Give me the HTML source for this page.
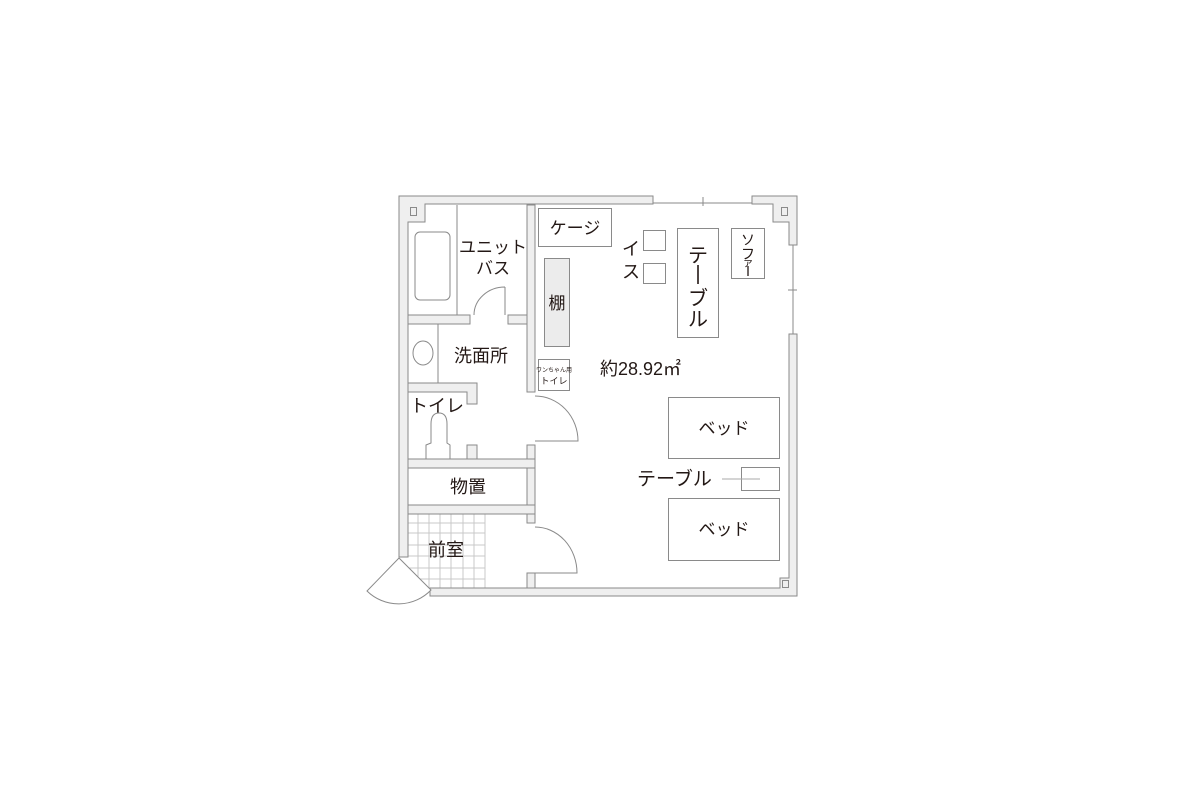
<!DOCTYPE html>
<html><head><meta charset="utf-8"><style>
html,body{margin:0;padding:0;background:#fff;}
svg{display:block}
text{font-family:"Liberation Sans","Noto Sans CJK JP",sans-serif;fill:#231815;}
</style></head><body>
<svg width="1200" height="800" viewBox="0 0 1200 800" xmlns="http://www.w3.org/2000/svg">
<g fill="none" stroke="#8a8a8a" stroke-width="1">
<g stroke="#c8c8c8">
<line x1="418" y1="514" x2="418" y2="588"/><line x1="429" y1="514" x2="429" y2="588"/><line x1="440" y1="514" x2="440" y2="588"/><line x1="451" y1="514" x2="451" y2="588"/><line x1="463" y1="514" x2="463" y2="588"/><line x1="474" y1="514" x2="474" y2="588"/><line x1="485" y1="514" x2="485" y2="588"/>
<line x1="408" y1="523" x2="485" y2="523"/><line x1="408" y1="533" x2="485" y2="533"/><line x1="408" y1="545" x2="485" y2="545"/><line x1="408" y1="556" x2="485" y2="556"/><line x1="408" y1="568" x2="485" y2="568"/><line x1="408" y1="579" x2="485" y2="579"/>
</g>
</g>
<g fill="#efefef" stroke="#8a8a8a" stroke-width="1">
<polygon points="399,196 653,196 653,204 425,204 425,222 408,222 408,557 399,557"/>
<polygon points="430,588 780,588 780,578 789,578 789,334 797,334 797,596 430,596"/>
<polygon points="752,196 797,196 797,245 789,245 789,222 773,222 773,204 752,204"/>
<rect x="527" y="205" width="8" height="187"/>
<rect x="527" y="445" width="8" height="60"/>
<rect x="527" y="505" width="8" height="18"/>
<rect x="527" y="573" width="8" height="15"/>
<rect x="408" y="315" width="62" height="9"/>
<rect x="508" y="315" width="19" height="9"/>
<polygon points="408,383 477,383 477,404 467,404 467,392 408,392"/>
<rect x="467" y="445" width="10" height="14"/>
<rect x="408" y="459" width="127" height="9"/>
<rect x="408" y="505" width="127" height="9"/>
</g>
<g fill="none" stroke="#8a8a8a" stroke-width="1">
<line x1="653" y1="203" x2="752" y2="203"/><line x1="703" y1="197" x2="703" y2="206"/>
<line x1="793" y1="245" x2="793" y2="334"/><line x1="788" y1="290" x2="797" y2="290"/>
<rect x="410.5" y="207.5" width="6" height="8"/>
<rect x="781.5" y="207.5" width="6" height="8"/>
<rect x="782.5" y="580.5" width="6" height="7"/>
<line x1="457" y1="205" x2="457" y2="315"/>
<rect x="415" y="232" width="35" height="68" rx="5"/>
<path d="M505,315 L505,287 M474,315 A31,28 0 0 1 505,287"/>
<line x1="438" y1="324" x2="438" y2="383"/>
<ellipse cx="423" cy="353" rx="10" ry="12"/>
<path d="M426,459 L426,445 L431,443 L431,424 Q431,413 439,413 Q447,413 447,424 L447,443 L450,445 L450,459"/>
<path d="M535,441 L578,441 A43,45 0 0 0 535,396"/>
<path d="M535,573 L577,573 A42,46 0 0 0 535,527"/>
<path d="M399,558 L367,591 A45,45 0 0 0 431,590 Z" fill="#fff"/>
<rect x="538.5" y="208.5" width="73" height="38"/>
<rect x="544.5" y="258.5" width="25" height="88" fill="#ececec"/>
<rect x="538.5" y="359.5" width="31" height="31"/>
<rect x="643.5" y="230.5" width="22" height="20"/>
<rect x="643.5" y="263.5" width="22" height="20"/>
<rect x="677.5" y="228.5" width="41" height="109"/>
<rect x="731.5" y="228.5" width="33" height="50"/>
<rect x="668.5" y="397.5" width="111" height="61"/>
<rect x="668.5" y="498.5" width="111" height="62"/>
<rect x="741.5" y="467.5" width="38" height="23"/>
<line x1="722" y1="479" x2="760" y2="479" stroke="#aaa"/>
</g>
<text x="493" y="253" font-size="17" text-anchor="middle">ユニット</text>
<text x="493" y="274" font-size="17" text-anchor="middle">バス</text>
<text x="575" y="234" font-size="17" text-anchor="middle">ケージ</text>
<text x="557" y="309" font-size="17" text-anchor="middle">棚</text>
<text x="554" y="372" font-size="6" text-anchor="middle">ワンちゃん用</text>
<text x="554" y="384" font-size="9" text-anchor="middle">トイレ</text>
<text x="481" y="362" font-size="18" text-anchor="middle">洗面所</text>
<text x="437" y="412" font-size="18" text-anchor="middle">トイレ</text>
<text x="468" y="493" font-size="18" text-anchor="middle">物置</text>
<text x="446" y="556" font-size="18" text-anchor="middle">前室</text>
<text x="631" y="255" font-size="18" text-anchor="middle">イ</text>
<text x="631" y="278" font-size="18" text-anchor="middle">ス</text>
<text x="698" y="262" font-size="20" text-anchor="middle">テ</text>
<line x1="698" y1="265" x2="698" y2="284" stroke="#231815" stroke-width="1.6"/>
<text x="698" y="305" font-size="20" text-anchor="middle">ブ</text>
<text x="698" y="326" font-size="20" text-anchor="middle">ル</text>
<text x="748" y="245" font-size="14" text-anchor="middle">ソ</text>
<text x="748" y="259" font-size="14" text-anchor="middle">フ</text>
<text x="748" y="266" font-size="11" text-anchor="middle">ァ</text>
<line x1="748" y1="266" x2="748" y2="276" stroke="#231815" stroke-width="1.3"/>
<text x="600" y="375" font-size="18">約28.92㎡</text>
<text x="724" y="434" font-size="17" text-anchor="middle">ベッド</text>
<text x="724" y="535" font-size="17" text-anchor="middle">ベッド</text>
<text x="637" y="485" font-size="19">テーブル</text>
</svg>
</body></html>
